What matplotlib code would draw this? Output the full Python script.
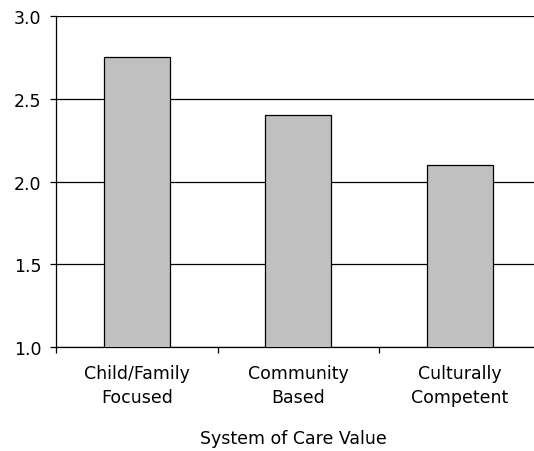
import matplotlib.pyplot as plt
import numpy as np

plt.rcParams['font.family'] = ['DejaVu Sans']

categorias = ['Child/Family\nFocused', 'Community\nBased', 'Culturally\nCompetent']
valores = [2.75, 2.40, 2.10]
ticks_y = [1.0, 1.5, 2.0, 2.5, 3.0]

fig = plt.figure(figsize=(5.34, 4.52), dpi=100)
# eixo um pouco mais largo que a figura, a borda direita fica cortada
ax = fig.add_axes([56 / 534, (452 - 348) / 452, 484.5 / 534, 331 / 452])

x = np.arange(len(categorias))
ax.bar(x, valores, width=0.41, bottom=0, color='#C0C0C0', edgecolor='black',
       linewidth=0.9, zorder=3)

ax.set_ylim(1.0, 3.0)
ax.set_xlim(-0.5, len(categorias) - 0.5)
ax.set_yticks(ticks_y)
ax.set_yticklabels([f'{v:.1f}' for v in ticks_y])
ax.yaxis.grid(True, color='black', linewidth=0.9, zorder=1)

ax.set_xticks(x)
ax.set_xticklabels(categorias, linespacing=1.4)
ax.set_xticks(np.arange(len(categorias) + 1) - 0.5, minor=True)
ax.tick_params(axis='x', which='major', length=0, pad=12.5, labelsize=12.5)
ax.tick_params(axis='x', which='minor', length=4, width=0.9, direction='out')
ax.tick_params(axis='y', length=4, width=0.9, direction='out', pad=6.5, labelsize=12.5)

for lado in ['top', 'right']:
    ax.spines[lado].set_visible(False)
for lado in ['left', 'bottom']:
    ax.spines[lado].set_linewidth(0.9)

ax.set_xlabel('System of Care Value', fontsize=12.5)
ax.xaxis.set_label_coords(237 / 484.5, -91 / 331)
ax.xaxis.label.set_va('center')

fig.savefig('out.png', dpi=100)
